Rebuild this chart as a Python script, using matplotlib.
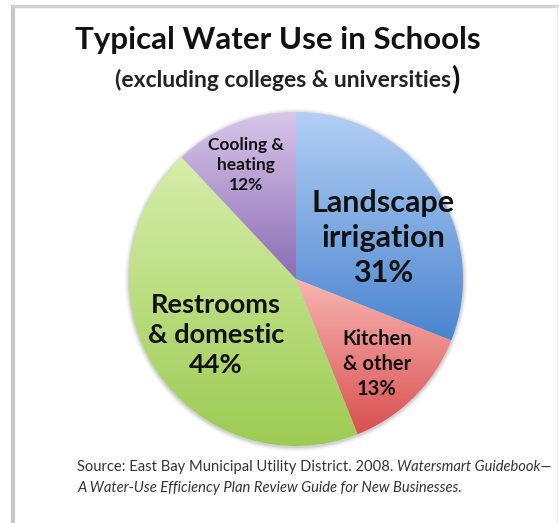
import numpy as np
import matplotlib.pyplot as plt
from matplotlib.colors import LinearSegmentedColormap
from matplotlib.patches import Circle

# slice data, clockwise from 12 o'clock
labels = ["Landscape\nirrigation\n31%", "Kitchen\n& other\n13%",
          "Restrooms\n& domestic\n44%", "Cooling &\nheating\n12%"]
shares = [31, 13, 44, 12]
light = ["#b3d0f5", "#f7b6b3", "#d6eeaa", "#d8c6ea"]
dark = ["#4a84cf", "#d9504f", "#9ccb52", "#8c6cb3"]

# label positions in pixels (from top-left) and font sizes
label_xy = [(383, 238), (377, 364), (216, 335), (246, 165)]
label_size = [22, 14.5, 19.5, 12.5]

W, H = 559, 523
plt.rcParams['font.family'] = ['Lato', 'DejaVu Sans']

fig = plt.figure(figsize=(W / 100, H / 100), dpi=100)
ax = fig.add_axes([0, 0, 1, 1])

cx, cy, r = 296, H - 279, 167

# soft shadow around the pie
for k, a in [(4, 0.10), (2.5, 0.15), (1.2, 0.25)]:
    ax.add_patch(Circle((cx, cy - 1), r + k, color="#9a9a9a", alpha=a, lw=0, zorder=1))

wedges, _ = ax.pie(shares, startangle=90, counterclock=False, center=(cx, cy),
                   radius=r, wedgeprops=dict(linewidth=0, facecolor="none"))

grad = np.linspace(0, 1, 256).reshape(-1, 1)
for w, c1, c2 in zip(wedges, light, dark):
    cmap = LinearSegmentedColormap.from_list("g", [c1, c2])
    path = w.get_path()
    verts = w.get_patch_transform().transform(path.vertices)
    y0, y1 = verts[:, 1].min(), verts[:, 1].max()
    im = ax.imshow(grad, cmap=cmap, extent=(cx - r, cx + r, y0, y1),
                   origin="upper", aspect="auto", zorder=2)
    im.set_clip_path(w)

for txt, (x, y), fs in zip(labels, label_xy, label_size):
    ax.text(x, H - y, txt, ha="center", va="center", fontsize=fs,
            fontweight="bold", color="#111111", linespacing=1.3, zorder=5)

ax.set_xlim(0, W)
ax.set_ylim(0, H)
ax.axis("off")

# frame lines
ax.plot([13, 13], [0, H - 5], color="#c8c8c8", lw=3, solid_capstyle="butt")
ax.plot([12, W], [H - 6, H - 6], color="#d2d2d2", lw=2.5, solid_capstyle="butt")
ax.plot([W - 2, W - 2], [0, H - 6], color="#eeeeee", lw=1)

# title
ax.text(278, H - 40, "Typical Water Use in Schools", ha="center", va="center",
        fontsize=22.5, fontweight="bold", color="#111111")
ax.text(451, H - 80, "(excluding colleges & universities", ha="right", va="center",
        fontsize=16.5, fontweight="bold", color="#222222")
ax.text(451, H - 79, ")", ha="left", va="center",
        fontsize=22, fontweight="bold", color="#111111")

# source note, mixed upright and italic
fig.canvas.draw()
rend = fig.canvas.get_renderer()
fs_src = 10.6
t1 = ax.text(77, H - 467, "Source: East Bay Municipal Utility District. 2008. ",
             ha="left", va="center", fontsize=fs_src, color="#333333")
bb = t1.get_window_extent(rend)
x_end = ax.transData.inverted().transform((bb.x1, 0))[0]
ax.text(x_end, H - 467, "Watersmart Guidebook\u2014", ha="left", va="center",
        fontsize=fs_src, style="italic", color="#333333")
ax.text(77, H - 488, "A Water-Use Efficiency Plan Review Guide for New Businesses.",
        ha="left", va="center", fontsize=fs_src, style="italic", color="#333333")

fig.savefig("out.png", dpi=100)
